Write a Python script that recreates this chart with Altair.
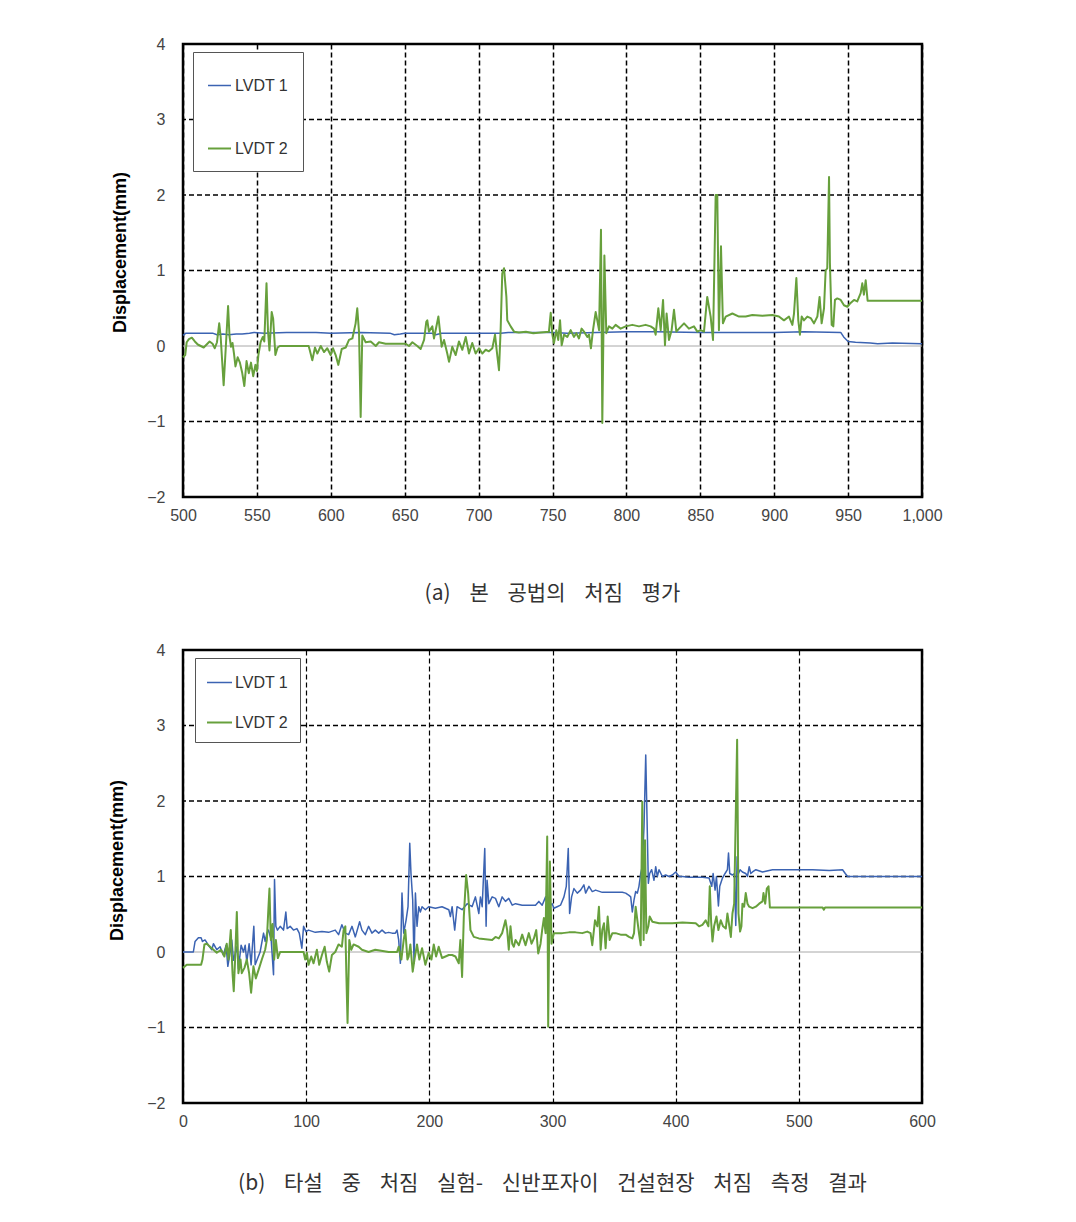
import altair as alt
import pandas as pd

BLUE = "#3b63b2"
GREEN = "#67a03c"
SERIES = ["LVDT 1", "LVDT 2"]

Y_TICKS = [-2, -1, 0, 1, 2, 3, 4]
Y_GRID = [-1, 1, 2, 3]
A_TICKS = [500, 550, 600, 650, 700, 750, 800, 850, 900, 950, 1000]
B_TICKS = [0, 100, 200, 300, 400, 500, 600]

SP = "\u00a0\u00a0\u00a0\u00a0"
CAPTION_A = SP.join(["(a)", "본", "공법의", "처짐", "평가"])
CAPTION_B = SP.join(["(b)", "타설", "중", "처짐", "실험-", "신반포자이", "건설현장", "처짐", "측정", "결과"])

# ---- panel (a): LVDT 1 ----
a1_x = [500, 502, 520, 523, 527, 531, 536, 540, 545, 548, 555, 570, 590, 600, 620, 640, 643, 647,
        650, 668, 671, 675, 680, 700, 715, 720, 750, 760, 780, 800, 820, 850, 860, 900, 920, 945,
        947, 950, 955, 965, 970, 980, 1000]
a1_y = [0.14, 0.17, 0.17, 0.15, 0.16, 0.15, 0.16, 0.16, 0.17, 0.18, 0.17, 0.18, 0.18, 0.17, 0.18,
        0.17, 0.15, 0.16, 0.17, 0.17, 0.15, 0.17, 0.17, 0.17, 0.17, 0.18, 0.18, 0.17, 0.18, 0.19,
        0.19, 0.18, 0.18, 0.18, 0.19, 0.18, 0.12, 0.06, 0.05, 0.04, 0.03, 0.04, 0.03]

# ---- panel (a): LVDT 2 ----
a2_x = [500, 501.5, 502.5, 504, 506, 508, 510, 512, 514, 516, 518, 520, 521.5, 523, 524.5, 525.5,
        526.5, 527.5, 529, 530.5, 531.5, 532.5, 533.5, 534.5, 535.5, 537, 538.5, 540, 541.5, 543,
        544.5, 546, 547.5, 549, 550, 551, 552.5, 554, 555, 556.5, 557.5, 558.5, 560, 561, 562.5,
        564, 565.5, 585, 585.7, 587.5, 589.3, 590.9, 593.2, 595.4, 597.6, 599.9, 601.5, 603.3,
        605.1, 607.4, 610.1, 612.3, 614.6, 616.8, 617.9, 619.1, 620.2, 621.3, 623.6, 627, 630.4,
        632.6, 637.1, 650.7, 652.9, 655.2, 658.5, 660.8, 663.1, 664.6, 665.3, 666.4, 668.7, 669.8,
        672.8, 675, 676.6, 678.8, 680, 682.2, 684.5, 686.7, 689, 691.3, 693.5, 695.7, 698, 700.3,
        702.5, 704.8, 707, 709.3, 711.1, 712.2, 713.8, 714.9, 716, 717.2, 718.8, 719.4, 721.7, 724,
        727.3, 732, 737, 742, 747.6, 748.8, 749.9, 751, 752.6, 753.9, 755.1, 756.2, 757.8, 760,
        762.3, 764.5, 766.1, 767.9, 769.7, 771.3, 773.6, 774.7, 776, 777.4, 779.2, 780.3, 781.5,
        782.8, 783.7, 785.1, 786.4, 788.2, 790.5, 792.7, 796.1, 799.5, 804, 808.5, 813, 816.4,
        818.7, 819.8, 821.6, 823.2, 824.8, 826.1, 827.2, 828.8, 830.6, 832.2, 833.8, 835.6, 839,
        842.3, 845.7, 848, 850.2, 852.5, 854.7, 857, 858.6, 860.4, 861.5, 862.6, 864, 865.3, 867.2,
        871.7, 876.2, 880.7, 885.2, 892, 898.7, 903.2, 906.6, 910, 912.3, 913.4, 915, 916.3, 917.4,
        918.6, 920.1, 922.4, 924.7, 926.9, 929.2, 930.7, 932.1, 933.7, 934.8, 935.9, 937.1, 937.7,
        938.9, 940, 941.1, 942.7, 945, 947.2, 949.5, 951.7, 954, 956.2, 958.5, 959.6, 960.7, 961.9,
        963.2, 1000]
a2_y = [-0.15, -0.12, 0.05, 0.09, 0.11, 0.06, 0.02, 0.0, -0.02, 0.02, 0.06, 0.03, -0.03, 0.05, 0.30,
        0.12, -0.2, -0.52, 0.0, 0.53, 0.12, -0.01, 0.04, -0.1, -0.27, -0.15, -0.22, -0.35, -0.53,
        -0.2, -0.36, -0.22, -0.4, -0.25, -0.33, -0.12, 0.05, 0.12, 0.06, 0.83, 0.2, -0.06, 0.45,
        0.36, -0.12, -0.02, 0.0, 0.0, -0.05, -0.19, -0.02, -0.1, 0.0, -0.08, -0.03, -0.12, -0.03,
        -0.12, -0.25, -0.04, -0.02, 0.08, 0.1, 0.3, 0.5, 0.18, -0.94, 0.14, 0.05, 0.06, 0.0, 0.05,
        0.03, 0.03, 0.0, 0.05, 0.0, -0.04, 0.08, 0.32, 0.34, 0.19, 0.26, 0.1, 0.39, -0.01, 0.08,
        -0.1, -0.21, -0.01, -0.12, 0.06, -0.05, 0.12, -0.1, 0.04, -0.1, -0.03, -0.1, -0.05, -0.07,
        -0.03, 0.15, -0.05, -0.32, 0.21, 0.96, 1.03, 0.65, 0.34, 0.26, 0.19, 0.18, 0.19, 0.17,
        0.18, 0.19, 0.44, 0.15, 0.04, 0.21, 0.08, 0.34, 0.01, 0.15, 0.12, 0.21, 0.12, 0.17, 0.1,
        0.23, 0.19, 0.12, 0.15, -0.03, 0.21, 0.45, 0.34, 0.21, 1.54, -1.02, 1.2, 0.17, 0.26, 0.23,
        0.28, 0.23, 0.26, 0.28, 0.26, 0.28, 0.26, 0.23, 0.15, 0.5, 0.21, 0.61, 0.01, 0.43, 0.08,
        0.21, 0.48, 0.19, 0.23, 0.3, 0.23, 0.26, 0.19, 0.21, 0.19, 0.65, 0.39, 0.08, 2.0, 2.0,
        0.21, 1.32, 0.3, 0.39, 0.43, 0.39, 0.39, 0.41, 0.4, 0.41, 0.39, 0.34, 0.39, 0.28, 0.43,
        0.9, 0.34, 0.15, 0.39, 0.34, 0.39, 0.37, 0.3, 0.39, 0.65, 0.3, 0.5, 1.0, 1.03, 2.24, 1.1,
        0.28, 0.26, 0.61, 0.63, 0.61, 0.54, 0.52, 0.57, 0.61, 0.59, 0.7, 0.83, 0.68, 0.87, 0.6, 0.6]

# ---- panel (b): LVDT 1 ----
b1_x = [0, 8.4, 9.8, 12.5, 14.7, 15.8, 17.9, 20.6, 23.4, 24.7, 27.4, 30.1, 32.8, 35, 36.4, 38.3,
        39.6, 41, 43.7, 45, 47.2, 49.1, 50.5, 51.8, 53.7, 55.3, 56.4, 57.5, 58.6, 60.7, 62.6, 65.4,
        66.7, 68.1, 69.4, 71.6, 73.5, 74.3, 75.4, 76.7, 78.9, 81.6, 83.5, 84.6, 87, 89.7, 92.5,
        94.4, 96.5, 97.9, 99.8, 101.9, 107.4, 112.8, 118.2, 123.6, 126.3, 129, 131.8, 134.5, 137.2,
        139.9, 143.4, 145.3, 148, 150.7, 153.4, 156.1, 158.9, 161.6, 164.3, 167, 169.7, 172.4,
        173.8, 175.1, 176.5, 177.8, 179.2, 181.1, 182.7, 184.1, 185.1, 186.5, 187.6, 188.7, 190,
        191.4, 192.7, 194.1, 196.8, 199.5, 204.9, 210.3, 215.8, 217.1, 218.5, 220.6, 222.5, 226.6,
        230.7, 234.7, 237.4, 240.2, 241.5, 242.9, 245, 246.1, 246.9, 248.3, 251, 253.7, 256.4,
        259.1, 261.8, 264.5, 267.3, 270, 275.4, 280.8, 286.2, 288.9, 291.6, 294.4, 295.7, 297.1,
        299.8, 301.1, 303.8, 306.5, 309.3, 311.2, 312.8, 313.9, 315.5, 317.4, 320.1, 322.8, 325.5,
        326.9, 329.6, 332.3, 335, 340.4, 351.3, 356.7, 359.4, 362.1, 363.5, 364.8, 366.2, 367.5,
        368.9, 370.2, 371.6, 372.9, 374.3, 375.7, 377, 377.8, 378.9, 380.5, 382.4, 383.8, 385.1,
        386.5, 389.2, 391.9, 394.6, 397.3, 400, 402.8, 405.5, 410.9, 416.3, 421.7, 427.1, 429.3,
        430.4, 432, 433.1, 434.7, 435.8, 438, 440.1, 442, 442.9, 443.9, 446.1, 447.7, 448.8, 449.9,
        451, 452.3, 454.2, 456.9, 458.3, 459.7, 461, 462.4, 465.1, 470.5, 478.6, 486.8, 497.6,
        511.2, 524.7, 535.5, 537.7, 539.6, 551.8, 565.3, 600]
b1_y = [0, 0, 0.14, 0.19, 0.19, 0.14, 0.16, 0.09, 0.03, 0.11, 0.03, 0.07, -0.04, 0.09, -0.19, 0.0,
        0.16, -0.11, 0.07, -0.22, 0.09, 0.0, 0.09, -0.13, 0.11, -0.17, 0.09, 0.34, -0.17, -0.08,
        0.0, 0.25, 0.14, 0.25, 0.29, 0.16, -0.3, 0.96, 0.34, 0.29, 0.34, 0.29, 0.53, 0.31, 0.34,
        0.29, 0.31, 0.25, 0.05, 0.34, 0.27, 0.29, 0.26, 0.27, 0.26, 0.29, 0.23, 0.36, 0.25, 0.23,
        0.34, 0.2, 0.4, 0.29, 0.23, 0.34, 0.25, 0.29, 0.25, 0.29, 0.25, 0.26, 0.25, 0.25, 0.29,
        0.16, -0.15, 0.78, 0.25, 0.42, 0.6, 1.44, 1.04, 0.69, -0.15, 0.78, 0.34, 0.6, 0.53, 0.6,
        0.56, 0.6, 0.58, 0.6, 0.56, 0.47, 0.6, 0.29, 0.6, 0.56, 0.64, 0.6, 0.73, 0.51, 0.73, 0.6,
        1.37, 0.34, 0.95, 0.64, 0.73, 0.71, 0.6, 0.73, 0.67, 0.71, 0.62, 0.64, 0.62, 0.62, 0.62,
        0.67, 0.62, 0.73, 0.64, 0.6, 0.64, 0.58, 0.6, 0.62, 0.73, 0.87, 1.37, 0.51, 0.73, 0.84,
        0.78, 0.82, 0.89, 0.78, 0.87, 0.8, 0.82, 0.79, 0.79, 0.79, 0.78, 0.75, 0.73, 0.53, 0.69,
        0.8, 0.78, 0.87, 1.04, 1.13, 1.66, 2.61, 1.57, 0.91, 1.04, 1.09, 0.95, 1.13, 1.0, 1.09, 1.0,
        1.02, 1.0, 1.02, 1.06, 1.0, 1.0, 0.99, 0.99, 0.99, 0.98, 0.87, 1.04, 0.82, 1.0, 0.61, 0.87,
        0.98, 1.04, 1.09, 1.31, 1.04, 1.02, 1.04, 0.35, 1.26, 1.04, 1.09, 1.06, 1.04, 1.0, 1.13,
        1.04, 1.06, 1.09, 1.06, 1.09, 1.09, 1.09, 1.09, 1.08, 1.09, 1.04, 1.0, 1.0, 1.0, 1.0]

# ---- panel (b): LVDT 2 ----
b2_x = [0, 3, 14.7, 15.8, 17.4, 19.3, 22, 24.7, 27.4, 30.9, 33.6, 35.5, 36.9, 38.8, 40.2, 41.2,
        42.3, 43.7, 45, 46.7, 47.7, 49.9, 51.8, 53.7, 55.3, 57.2, 59.1, 61.3, 64, 66.7, 68.1, 69.4,
        70.2, 71.3, 72.7, 74, 75.4, 77, 78.9, 97.9, 99.2, 100.6, 101.9, 104.1, 106, 108.7, 110.6,
        112.8, 115, 116.8, 118.7, 120.9, 123.6, 126.3, 129, 130.4, 131.8, 132.6, 133.6, 135, 136.6,
        138.5, 142.6, 145.3, 150.7, 156.1, 167, 173.8, 175.1, 177.3, 179.2, 180.5, 182.2, 183.2,
        184.6, 186.5, 188.1, 190, 191.9, 194.1, 196.8, 199.5, 201.7, 203.6, 205.5, 207.6, 210.3,
        213.1, 215.8, 218.5, 221.2, 223.9, 225.2, 226.6, 228, 229.9, 231.5, 233.4, 236.1, 240.2,
        245.6, 251, 253.7, 256.4, 259.1, 261.8, 263.2, 264.5, 265.9, 267.3, 268.6, 270, 272.7,
        275.4, 278.1, 280.8, 283, 284.9, 286.8, 288.4, 290.3, 291.6, 293, 294.4, 295.7, 296.5,
        297.9, 299.2, 301.1, 303.8, 307.9, 313.3, 318.7, 324.2, 328.2, 330.9, 332.3, 334.5, 336.4,
        337.7, 339.1, 340.4, 341.8, 343.1, 344.8, 346.4, 348.6, 351.3, 355.3, 359.4, 362.1, 364.8,
        366.2, 367.5, 368.9, 370.2, 371.6, 372.9, 374, 375.1, 376.2, 377.8, 378.9, 381.1, 386.5,
        391.9, 397.3, 405.5, 416.3, 419, 421.7, 424.4, 426.6, 427.7, 428.8, 429.9, 431.2, 433.1,
        434.7, 436.6, 438.5, 440.7, 442, 443.4, 444.8, 446.1, 447.5, 449.9, 451, 452.3, 453.4,
        454.2, 455.6, 456.9, 458.3, 459.7, 462.4, 465.1, 467.8, 470.5, 471.3, 472.7, 474, 475.4,
        476.5, 519.3, 520.3, 521.3, 600]
b2_y = [-0.21, -0.17, -0.17, -0.1, 0.1, 0.11, 0.07, 0.03, -0.01, 0.03, -0.06, 0.11, -0.1, 0.29,
        -0.28, -0.52, -0.1, 0.53, -0.28, -0.1, -0.28, -0.21, -0.1, -0.28, -0.54, -0.19, -0.35,
        -0.24, -0.1, 0.03, 0.16, 0.6, 0.84, 0.16, 0.37, -0.1, 0.16, -0.08, 0.0, 0.0, -0.1, -0.01,
        -0.17, -0.06, -0.15, 0.03, -0.17, -0.04, 0.07, -0.13, -0.26, -0.04, 0.0, 0.1, 0.07, 0.29,
        0.34, -0.28, -0.94, 0.16, 0.03, 0.1, 0.07, 0.03, 0.0, 0.03, 0.0, 0.0, 0.07, -0.1, 0.16,
        0.29, -0.1, -0.06, 0.1, -0.26, -0.08, 0.1, -0.1, 0.05, -0.17, -0.01, -0.1, 0.1, -0.06,
        0.07, -0.08, -0.06, -0.04, -0.04, -0.06, -0.15, 0.16, -0.33, 0.47, 1.02, 0.78, 0.29, 0.2,
        0.18, 0.17, 0.16, 0.2, 0.18, 0.25, 0.42, 0.29, 0.03, 0.34, 0.11, 0.07, 0.16, 0.09, 0.23,
        0.09, 0.25, 0.11, 0.18, 0.29, -0.02, 0.11, 0.29, 0.45, 0.25, 1.53, -0.99, 1.2, 0.11, 0.25,
        0.25, 0.25, 0.26, 0.26, 0.25, 0.27, 0.25, 0.09, 0.42, 0.34, 0.6, 0.03, 0.29, 0.38, 0.05,
        0.47, 0.16, 0.25, 0.25, 0.23, 0.23, 0.2, 0.18, 0.25, 0.6, 0.42, 0.25, 0.09, 1.99, 0.16,
        1.48, 0.25, 0.34, 0.47, 0.4, 0.38, 0.38, 0.38, 0.39, 0.38, 0.34, 0.36, 0.42, 0.34, 0.87,
        0.4, 0.14, 0.34, 0.47, 0.29, 0.42, 0.34, 0.31, 0.51, 0.36, 0.2, 0.51, 0.64, 2.81, 0.51,
        0.27, 0.34, 0.64, 0.6, 0.78, 0.64, 0.6, 0.58, 0.6, 0.64, 0.67, 0.78, 0.64, 0.84, 0.87,
        0.59, 0.59, 0.56, 0.59, 0.59]


def make_df(x1, y1, x2, y2):
    rows = [{"x": x, "y": y, "series": SERIES[0], "i": i} for i, (x, y) in enumerate(zip(x1, y1))]
    rows += [{"x": x, "y": y, "series": SERIES[1], "i": i} for i, (x, y) in enumerate(zip(x2, y2))]
    return pd.DataFrame(rows)


LABEL_FONT = "Liberation Sans"


def panel(df, domain, ticks, fmt, caption, cap_offset, legend, title_x, title_y, xgrid_w):
    xenc = alt.X(
        "x:Q",
        title=None,
        scale=alt.Scale(domain=domain, nice=False, zero=False),
        axis=alt.Axis(values=ticks, format=fmt, grid=True, gridColor="black",
                      gridDash=[5, 3], gridWidth=xgrid_w, gridOpacity=1, ticks=False,
                      domain=False, labelPadding=10, labelFontSize=16, labelColor="#444",
                      labelFont=LABEL_FONT, labelFlush=False),
    )
    yenc = alt.Y(
        "y:Q",
        title="Displacement(mm)",
        scale=alt.Scale(domain=[-2, 4], nice=False, zero=False),
        axis=alt.Axis(values=Y_TICKS, grid=False, ticks=False, domain=False,
                      labelPadding=18, labelFontSize=16, labelColor="#444",
                      labelFont=LABEL_FONT, titleFont=LABEL_FONT, titleFontSize=18,
                      titleFontWeight="bold", titleColor="black", titleAngle=270,
                      titleX=title_x, titleY=title_y, titleBaseline="middle",
                      titleAlign="center"),
    )
    grid = alt.Chart(pd.DataFrame({"y": Y_GRID})).mark_rule(
        color="black", strokeDash=[5, 3], strokeWidth=1.5
    ).encode(y=yenc)
    zero = alt.Chart(pd.DataFrame({"y": [0]})).mark_rule(
        color="#a8a8a8", strokeWidth=1
    ).encode(y=yenc)
    lines = alt.Chart(df).mark_line(strokeJoin="round", interpolate="linear").encode(
        x=xenc,
        y=yenc,
        order="i:Q",
        color=alt.Color("series:N",
                        scale=alt.Scale(domain=SERIES, range=[BLUE, GREEN]),
                        legend=legend),
        strokeWidth=alt.StrokeWidth("series:N",
                                    scale=alt.Scale(domain=SERIES, range=[1.5, 2.0]),
                                    legend=None),
    )
    return alt.layer(grid, zero, lines).properties(
        width=739, height=453,
        title=alt.TitleParams(caption, orient="bottom", anchor="middle", offset=cap_offset,
                              font="Noto Sans CJK KR", fontSize=21, fontWeight="normal",
                              color="#333"),
    )


legend_a = alt.Legend(orient="none", legendX=10, legendY=8, title=" ", titleFontSize=1,
                      titlePadding=6, padding=14, strokeColor="#555", fillColor="white",
                      symbolType="stroke", symbolSize=529, symbolStrokeWidth=1.5,
                      labelFontSize=16, labelFont=LABEL_FONT, labelColor="#333",
                      labelOffset=3, rowPadding=42)
legend_b = alt.Legend(orient="none", legendX=12, legendY=8, title=None, padding=11,
                      strokeColor="#555", fillColor="white", symbolType="stroke",
                      symbolSize=625, symbolStrokeWidth=1.5, labelFontSize=16,
                      labelFont=LABEL_FONT, labelColor="#333", labelOffset=2, rowPadding=18)

pa = panel(make_df(a1_x, a1_y, a2_x, a2_y), [500, 1000], A_TICKS, ",d", CAPTION_A, 60,
           legend_a, -63, 208, 1.5)
pb = panel(make_df(b1_x, b1_y, b2_x, b2_y), [0, 600], B_TICKS, "d", CAPTION_B, 44,
           legend_b, -66, 210, 1.2)

chart = alt.vconcat(pa, pb, spacing=153, bounds="flush").resolve_scale(
    x="independent", y="independent", color="independent", strokeWidth="independent"
).configure_view(stroke="black", strokeWidth=2.5).properties(
    padding={"left": 106, "top": 34, "right": 20, "bottom": 20},
    background="white",
)

chart.save("out.html", embed_options={"renderer": "svg", "actions": False})
